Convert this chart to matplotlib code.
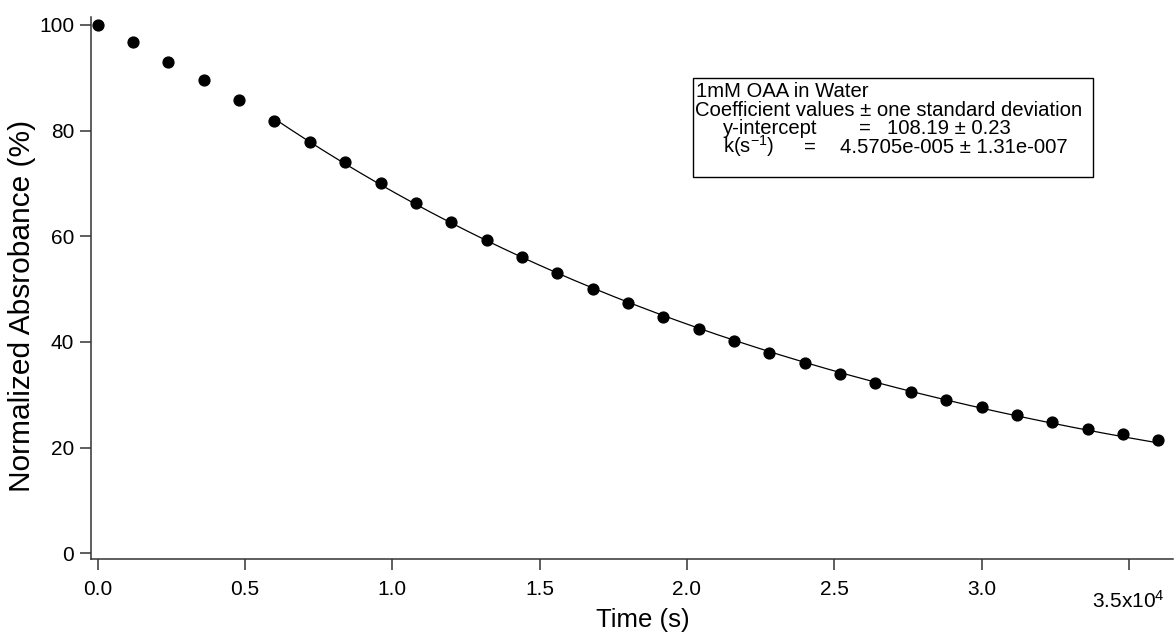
# Importamos NumPy para armar la curva del ajuste.
import numpy as np

# Importamos Matplotlib para dibujar el grafico.
import matplotlib
matplotlib.use("Agg")
import matplotlib.pyplot as plt
from matplotlib.transforms import ScaledTranslation
from matplotlib.patches import Rectangle

# Fuente tipo Arial para todo el grafico, tambien en los superindices.
plt.rcParams["font.family"] = ["Liberation Sans", "DejaVu Sans"]
plt.rcParams["mathtext.fontset"] = "custom"
plt.rcParams["mathtext.rm"] = "Liberation Sans"
plt.rcParams["mathtext.it"] = "Liberation Sans"

# Datos medidos: tiempo (s) y absorbancia normalizada (%).
tiempo_s = [0, 1200, 2400, 3600, 4800, 6000, 7200, 8400, 9600, 10800,
            12000, 13200, 14400, 15600, 16800, 18000, 19200, 20400, 21600, 22800,
            24000, 25200, 26400, 27600, 28800, 30000, 31200, 32400, 33600, 34800,
            36000]
absorbancia = [100.0, 96.7, 93.0, 89.5, 85.8, 81.9, 77.9, 74.0, 70.1, 66.3,
               62.6, 59.2, 56.0, 53.0, 50.0, 47.3, 44.8, 42.4, 40.2, 37.9,
               36.0, 33.9, 32.2, 30.5, 29.0, 27.6, 26.2, 24.8, 23.6, 22.5,
               21.4]

# Coeficientes del ajuste exponencial y el tramo donde se aplico.
intercepto = 108.19
k_ajuste = 4.5705e-5
inicio_ajuste = 6000
fin_ajuste = 36000

# Etiquetas de los ejes.
marcas_x = [0, 5000, 10000, 15000, 20000, 25000, 30000, 35000]
etiquetas_x = ["0.0", "0.5", "1.0", "1.5", "2.0", "2.5", "3.0", "3.5x10$^{4}$"]
marcas_y = [0, 20, 40, 60, 80, 100]

color_ejes = "#333333"

fig = plt.figure(figsize=(11.76, 6.32), dpi=100)
ax = fig.add_axes([91 / 1176, 73 / 632, 1082 / 1176, 542 / 632])

# Curva del ajuste sobre el tramo ajustado.
t_ajuste = np.linspace(inicio_ajuste, fin_ajuste, 300)
ax.plot(t_ajuste, intercepto * np.exp(-k_ajuste * t_ajuste), color="black", lw=0.9, zorder=2)

# Puntos medidos.
ax.plot(tiempo_s, absorbancia, "o", color="black", markersize=7.8, zorder=3)

ax.set_xlim(-227, 36500)
ax.set_ylim(-1.1, 101.5)

# Solo ejes izquierdo e inferior, con marcas hacia afuera.
for lado in ["top", "right"]:
    ax.spines[lado].set_visible(False)
for lado in ["left", "bottom"]:
    ax.spines[lado].set_color(color_ejes)
    ax.spines[lado].set_linewidth(1.1)

ax.set_xticks(marcas_x)
ax.set_xticklabels(etiquetas_x)
ax.set_yticks(marcas_y)
ax.tick_params(direction="out", length=8, width=1.1, color=color_ejes, labelsize=15)
ax.tick_params(axis="x", pad=7)
ax.tick_params(axis="y", pad=4)

# La ultima etiqueta de x va un poco mas abajo.
ultima = ax.get_xticklabels()[-1]
ultima.set_transform(ultima.get_transform() + ScaledTranslation(0, -10 / 100, fig.dpi_scale_trans))


def px(x, y):
    """Pasa pixeles (desde arriba a la izquierda) a coordenadas de figura."""
    return x / 1176, 1 - y / 632


# Titulos de los ejes.
fig.text(*px(643, 627), "Time (s)", fontsize=18.5, ha="center", va="baseline")
fig.text(*px(22, 306), "Normalized Absrobance (%)", fontsize=21.5, rotation=90,
         ha="center", va="center")

# Cuadro con los coeficientes del ajuste.
x0, y0 = px(693, 177)
x1, y1 = px(1093, 78)
fig.patches.append(Rectangle((x0, y0), x1 - x0, y1 - y0, transform=fig.transFigure,
                             fill=False, edgecolor="black", lw=1.0))

tam = 14.6
fig.text(*px(696, 97), "1mM OAA in Water", fontsize=tam, va="baseline")
fig.text(*px(695, 116), "Coefficient values \u00b1 one standard deviation", fontsize=tam, va="baseline")
fig.text(*px(723, 134), "y-intercept", fontsize=tam, va="baseline")
fig.text(*px(859, 134), "=", fontsize=tam, va="baseline")
fig.text(*px(887, 134), f"{intercepto:.2f} \u00b1 0.23", fontsize=tam, va="baseline")
fig.text(*px(723, 153), "k(s$^{-1}$)", fontsize=tam, va="baseline")
fig.text(*px(804, 153), "=", fontsize=tam, va="baseline")
fig.text(*px(840, 153), "4.5705e-005 \u00b1 1.31e-007", fontsize=tam, va="baseline")

fig.savefig("out.png", dpi=100)
